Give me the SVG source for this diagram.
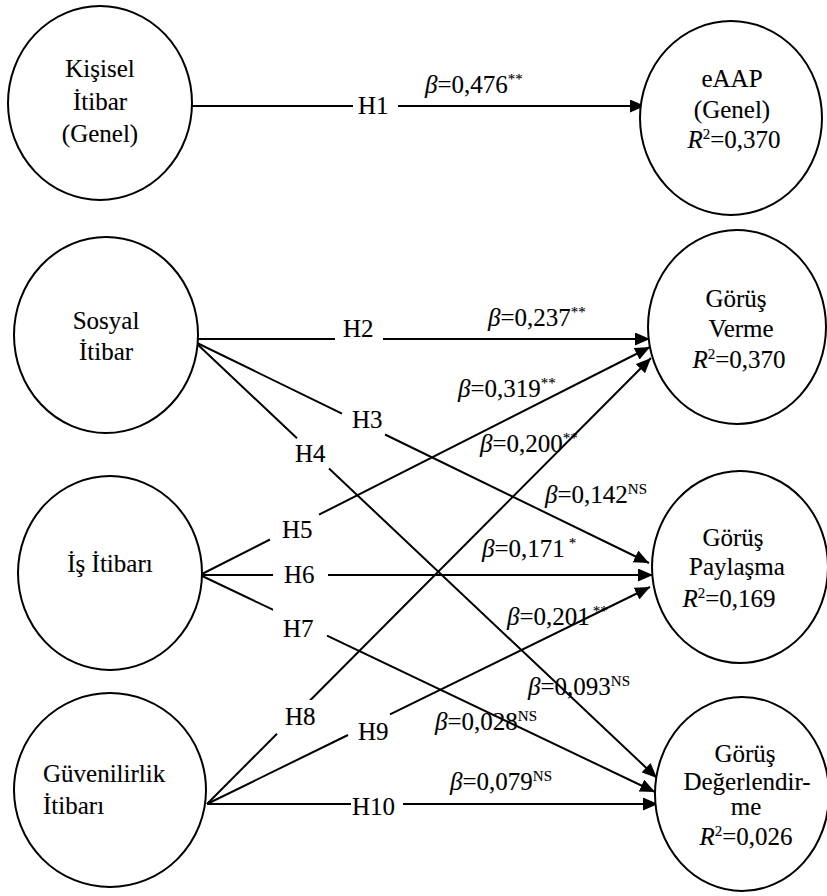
<svg xmlns="http://www.w3.org/2000/svg" width="827" height="896" viewBox="0 0 827 896" font-family="'Liberation Serif', 'Times New Roman', serif" font-size="25">
<style>
  text { fill: #000; stroke: #000; stroke-width: 0.12; }
  .node { fill: #fff; stroke: #000; stroke-width: 2; }
  .conn { fill: none; stroke: #000; stroke-width: 2; }
  .mid { text-anchor: middle; }
  .it { font-style: italic; }
  .sup { font-size: 15px; }
  .bg { fill: #fff; }
</style>
<defs>
  <marker id="arr" markerUnits="userSpaceOnUse" markerWidth="16" markerHeight="13" refX="15" refY="6.5" orient="auto">
    <path d="M0,0 L15,6.5 L0,13 z" fill="#000"/>
  </marker>
</defs>
<rect width="827" height="896" fill="#fff"/>

<g id="connectors">
  <path class="conn" marker-end="url(#arr)" d="M192,106 L353,106 M398,106 L645,106"/>
  <path class="conn" marker-end="url(#arr)" d="M195,339 L335,339 M383,339 L650,339"/>
  <path class="conn" marker-end="url(#arr)" d="M195,342 L342,413.6 M385,434.5 L649,563"/>
  <path class="conn" marker-end="url(#arr)" d="M195,342 L297,438.3 M329,468.5 L657,778"/>
  <path class="conn" marker-end="url(#arr)" d="M200,575 L270,539.5 M319,514.7 L650,347"/>
  <path class="conn" marker-end="url(#arr)" d="M200,575 L273,575 M328,575 L653,575"/>
  <path class="conn" marker-end="url(#arr)" d="M200,575 L277,611.7 M327,635.6 L655,792"/>
  <path class="conn" marker-end="url(#arr)" d="M207,804 L277,733.7 M308,702.5 L651,358"/>
  <path class="conn" marker-end="url(#arr)" d="M207,804 L348,735 M390,714.4 L650,587"/>
  <path class="conn" marker-end="url(#arr)" d="M207,804 L351,804 M403,804 L658,804"/>
</g>

<g id="labels">
  <text x="358" y="114">H1</text>
  <text x="343" y="337">H2</text>
  <text x="352" y="428">H3</text>
  <text x="295" y="462">H4</text>
  <text x="282" y="538">H5</text>
  <text x="284" y="583">H6</text>
  <rect class="bg" x="273" y="608" width="49" height="35"/>
  <text x="283" y="637">H7</text>
  <rect class="bg" x="278" y="700" width="49" height="32"/>
  <text x="285" y="725">H8</text>
  <rect class="bg" x="349" y="716" width="44" height="29"/>
  <text x="358" y="740">H9</text>
  <rect class="bg" x="351" y="792" width="52" height="30"/>
  <text x="352" y="815">H10</text>

  <text x="425" y="93"><tspan class="it">β</tspan>=0,476<tspan class="sup" dy="-9">**</tspan></text>
  <text x="488" y="326"><tspan class="it">β</tspan>=0,237<tspan class="sup" dy="-9">**</tspan></text>
  <text x="458" y="397"><tspan class="it">β</tspan>=0,319<tspan class="sup" dy="-9">**</tspan></text>
  <text x="480" y="452"><tspan class="it">β</tspan>=0,200<tspan class="sup" dy="-9">**</tspan></text>
  <text x="545" y="503"><tspan class="it">β</tspan>=0,142<tspan class="sup" dy="-9">NS</tspan></text>
  <text x="482" y="557"><tspan class="it">β</tspan>=0,171<tspan class="sup" dy="-9" dx="4">*</tspan></text>
  <text x="507" y="625"><tspan class="it">β</tspan>=0,201<tspan class="sup" dy="-9" dx="3">**</tspan></text>
  <text x="528" y="695"><tspan class="it">β</tspan>=0,093<tspan class="sup" dy="-9">NS</tspan></text>
  <text x="435" y="730"><tspan class="it">β</tspan>=0,028<tspan class="sup" dy="-9">NS</tspan></text>
  <text x="450" y="790"><tspan class="it">β</tspan>=0,079<tspan class="sup" dy="-9">NS</tspan></text>
</g>

<g id="kisisel-itibar">
  <ellipse class="node" cx="100" cy="103" rx="92" ry="97"/>
  <text class="mid" x="100" y="77">Kişisel</text>
  <text class="mid" x="100" y="110">İtibar</text>
  <text class="mid" x="100" y="142">(Genel)</text>
</g>
<g id="eaap">
  <ellipse class="node" cx="731" cy="118" rx="91" ry="97"/>
  <text class="mid" x="732" y="87">eAAP</text>
  <text class="mid" x="732" y="118">(Genel)</text>
  <text class="mid" x="734" y="148"><tspan class="it">R</tspan><tspan class="sup" dy="-9">2</tspan><tspan dy="9">=0,370</tspan></text>
</g>
<g id="sosyal-itibar">
  <ellipse class="node" cx="106" cy="335" rx="92" ry="98"/>
  <text class="mid" x="106" y="329">Sosyal</text>
  <text class="mid" x="106" y="360">İtibar</text>
</g>
<g id="gorus-verme">
  <ellipse class="node" cx="737" cy="327" rx="89" ry="97"/>
  <text class="mid" x="736" y="307">Görüş</text>
  <text class="mid" x="741" y="337">Verme</text>
  <text class="mid" x="739" y="368"><tspan class="it">R</tspan><tspan class="sup" dy="-9">2</tspan><tspan dy="9">=0,370</tspan></text>
</g>
<g id="is-itibari">
  <ellipse class="node" cx="110" cy="573" rx="92" ry="97"/>
  <text class="mid" x="110" y="572">İş İtibarı</text>
</g>
<g id="gorus-paylasma">
  <ellipse class="node" cx="740" cy="567" rx="88" ry="96"/>
  <text class="mid" x="733" y="546">Görüş</text>
  <text class="mid" x="737" y="575">Paylaşma</text>
  <text class="mid" x="729" y="607"><tspan class="it">R</tspan><tspan class="sup" dy="-9">2</tspan><tspan dy="9">=0,169</tspan></text>
</g>
<g id="guvenilirlik-itibari">
  <ellipse class="node" cx="110" cy="790" rx="96" ry="97"/>
  <text x="43" y="782">Güvenilirlik</text>
  <text x="43" y="814">İtibarı</text>
</g>
<g id="gorus-degerlendirme">
  <ellipse class="node" cx="742" cy="794" rx="87" ry="97"/>
  <text class="mid" x="745" y="762">Görüş</text>
  <text class="mid" x="747" y="790">Değerlendir-</text>
  <text class="mid" x="746" y="815">me</text>
  <text class="mid" x="746" y="845"><tspan class="it">R</tspan><tspan class="sup" dy="-9">2</tspan><tspan dy="9">=0,026</tspan></text>
</g>
</svg>
